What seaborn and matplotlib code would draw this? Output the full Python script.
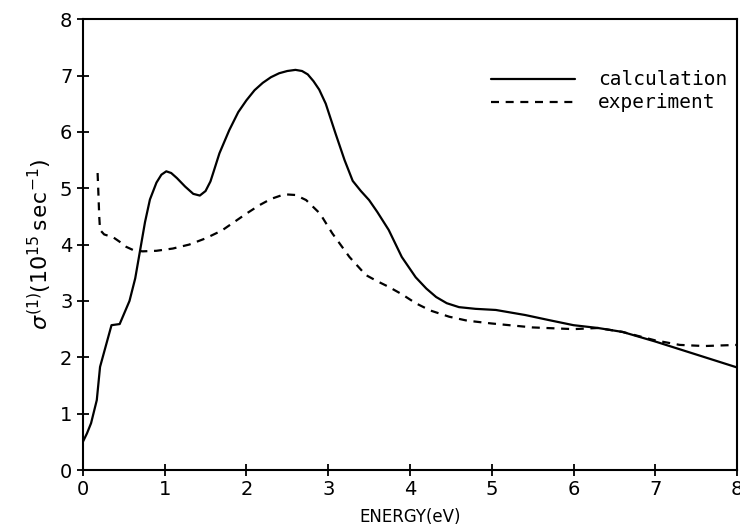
import matplotlib
matplotlib.use("Agg")
import matplotlib.pyplot as plt
import pandas as pd
import seaborn as sns

# calculation (solid)
calc_energy = [0.0, 0.05, 0.1, 0.17, 0.21, 0.28, 0.35, 0.45, 0.57, 0.64, 0.70, 0.76,
               0.82, 0.9, 0.96, 1.02, 1.08, 1.15, 1.25, 1.35, 1.43, 1.5, 1.56, 1.6,
               1.67, 1.79, 1.9, 2.0, 2.1, 2.2, 2.3, 2.4, 2.5, 2.6, 2.68, 2.75, 2.82,
               2.89, 2.97, 3.09, 3.2, 3.3, 3.4, 3.5, 3.6, 3.74, 3.9, 4.07, 4.2, 4.32,
               4.45, 4.6, 4.8, 5.05, 5.41, 5.7, 6.0, 6.3, 6.6, 7.0, 7.5, 8.0]
calc_sigma = [0.5, 0.65, 0.83, 1.24, 1.83, 2.2, 2.57, 2.59, 3.0, 3.4, 3.9, 4.4,
              4.8, 5.1, 5.24, 5.3, 5.27, 5.18, 5.03, 4.9, 4.87, 4.95, 5.12, 5.3,
              5.62, 6.03, 6.35, 6.56, 6.74, 6.87, 6.97, 7.04, 7.08, 7.1, 7.08, 7.02,
              6.9, 6.75, 6.5, 5.97, 5.5, 5.13, 4.95, 4.79, 4.58, 4.26, 3.78,
              3.42, 3.22, 3.07, 2.96, 2.89, 2.86, 2.84, 2.75, 2.66, 2.57, 2.52, 2.45,
              2.28, 2.05, 1.82]

# experiment (dashed)
exp_energy = [0.18, 0.19, 0.2, 0.21, 0.26, 0.37, 0.45, 0.53, 0.62, 0.73, 0.9, 1.1,
              1.3, 1.5, 1.7, 1.83, 2.0, 2.16, 2.3, 2.42, 2.49, 2.6, 2.73, 2.9, 3.05,
              3.26, 3.46, 3.6, 3.74, 3.9, 4.07, 4.25, 4.48, 4.7, 5.0, 5.5, 6.0, 6.3,
              6.6, 7.0, 7.3, 7.6, 8.0]
exp_sigma = [5.27, 4.9, 4.5, 4.26, 4.18, 4.13, 4.05, 3.96, 3.9, 3.88, 3.89, 3.93,
             4.0, 4.11, 4.25, 4.38, 4.55, 4.70, 4.81, 4.87, 4.89, 4.88, 4.79, 4.55,
             4.2, 3.78, 3.46, 3.35, 3.25, 3.12, 2.96, 2.83, 2.72, 2.65, 2.6, 2.53,
             2.5, 2.52, 2.45, 2.3, 2.22, 2.2, 2.22]

calc = pd.DataFrame({"energy": calc_energy, "sigma": calc_sigma})
expt = pd.DataFrame({"energy": exp_energy, "sigma": exp_sigma})

sns.set_style("ticks")
plt.rcParams["font.family"] = ["DejaVu Sans"]
plt.rcParams["text.color"] = "black"
plt.rcParams["axes.labelcolor"] = "black"

fig = plt.figure(figsize=(7.4, 5.32), dpi=100)
ax = fig.add_axes([0.112, 0.1165, 0.884, 0.8475])

sns.lineplot(data=calc, x="energy", y="sigma", ax=ax, color="black",
             linewidth=1.6, label="calculation", sort=False)
sns.lineplot(data=expt, x="energy", y="sigma", ax=ax, color="black",
             linewidth=1.6, label="experiment", sort=False)
ax.lines[1].set_dashes((3.6, 3.0))

ax.set_xlim(0, 8)
ax.set_ylim(0, 8)
ax.set_xticks(range(9))
ax.set_yticks(range(9))
for s in ax.spines.values():
    s.set_visible(True)
    s.set_linewidth(1.5)
    s.set_color("black")
ax.tick_params(direction="inout", length=8, width=1.3, labelsize=14,
               colors="black")

ax.set_xlabel("ENERGY(eV)", fontsize=12, labelpad=6)
ax.set_ylabel(r"$\sigma^{(1)}(10^{15}\,\mathtt{sec}^{-1})$", fontsize=16, labelpad=4)

leg = ax.legend(loc="upper right", bbox_to_anchor=(1.012, 0.925), frameon=False,
                handlelength=4.3, handletextpad=1.2, labelspacing=0.2,
                prop={"family": "DejaVu Sans Mono", "size": 14})
leg.get_lines()[1].set_dashes((3.6, 3.0))
for t in leg.get_texts():
    t.set_color("black")

fig.savefig("out.png", dpi=100)
